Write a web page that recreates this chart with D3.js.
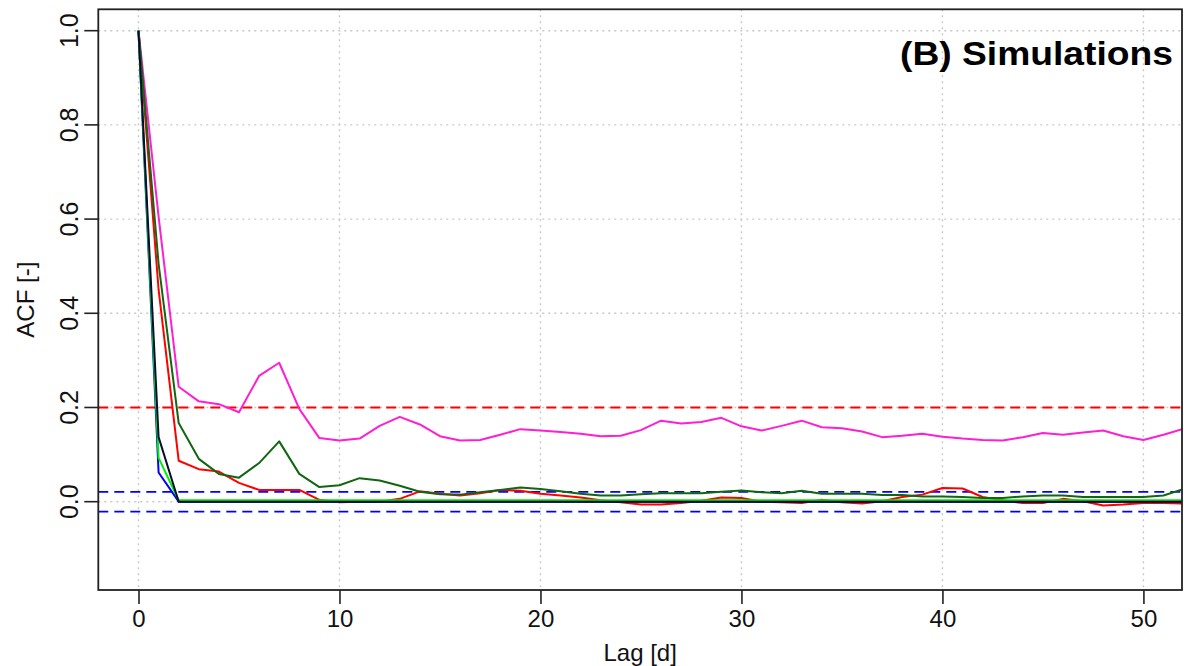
<!DOCTYPE html>
<html>
<head>
<meta charset="utf-8">
<script src="https://cdn.jsdelivr.net/npm/d3@7"></script>
<style>
  html, body { margin: 0; padding: 0; background: #fff; }
  svg text { font-family: "Liberation Sans", Arial, sans-serif; }
</style>
</head>
<body>
<svg id="chart" width="1184" height="666"></svg>
<script>
// ---- data (ACF by lag, lags 0..52) ----
const lags = d3.range(0, 53);
const magentaACF = [1.0, 0.605, 0.244, 0.213, 0.207, 0.190, 0.267, 0.295, 0.197, 0.135,
  0.130, 0.134, 0.161, 0.180, 0.164, 0.139, 0.130, 0.131, 0.142, 0.154,
  0.151, 0.148, 0.144, 0.139, 0.140, 0.152, 0.172, 0.166, 0.169, 0.178,
  0.160, 0.151, 0.161, 0.172, 0.158, 0.156, 0.149, 0.137, 0.140, 0.144,
  0.138, 0.134, 0.131, 0.130, 0.137, 0.146, 0.142, 0.147, 0.151, 0.139,
  0.131, 0.142, 0.155];
const darkgreenACF = [1.0, 0.505, 0.167, 0.091, 0.059, 0.051, 0.082, 0.128, 0.059, 0.031,
  0.035, 0.050, 0.045, 0.034, 0.021, 0.016, 0.015, 0.020, 0.025, 0.030,
  0.027, 0.022, 0.017, 0.013, 0.013, 0.016, 0.018, 0.018, 0.018, 0.021,
  0.024, 0.020, 0.018, 0.023, 0.017, 0.017, 0.017, 0.014, 0.014, 0.011,
  0.011, 0.010, 0.008, 0.008, 0.011, 0.013, 0.013, 0.010, 0.010, 0.010,
  0.010, 0.013, 0.027];
const redACF = [1.0, 0.450, 0.087, 0.069, 0.064, 0.040, 0.025, 0.025, 0.025, 0.004,
  -0.001, 0.000, 0.000, 0.006, 0.022, 0.017, 0.013, 0.018, 0.025, 0.023,
  0.017, 0.013, 0.009, 0.003, -0.001, -0.006, -0.006, -0.003, 0.002, 0.009,
  0.008, 0.000, -0.001, -0.003, 0.004, -0.001, -0.004, 0.001, 0.010, 0.015,
  0.029, 0.028, 0.010, 0.003, -0.003, -0.003, 0.006, 0.001, -0.008, -0.006,
  -0.003, -0.003, -0.004];
const blueACF = [1.0, 0.062].concat(Array(51).fill(0.0));
const limeACF = [1.0, 0.093].concat(Array(51).fill(0.003));
const blackACF = [1.0, 0.137].concat(Array(51).fill(0.0));

const seriesNames = ["magenta", "red", "darkgreen", "blue", "lime", "black"];
const seriesValues = [magentaACF, redACF, darkgreenACF, blueACF, limeACF, blackACF];
const seriesColors = ["#ff1fd2", "#ff0000", "#116611", "#0000ff", "#00ee00", "#0b0b2e"];

const refLines = [0.2, 0.021, -0.021];
const refColors = ["#ff0000", "#0000ff", "#0000ff"];

const xTicks = [0, 10, 20, 30, 40, 50];
const yTicks = [0.0, 0.2, 0.4, 0.6, 0.8, 1.0];
const yTickLabels = ["0.0", "0.2", "0.4", "0.6", "0.8", "1.0"];

const titleText = "(B) Simulations";
const xTitle = "Lag [d]";
const yTitle = "ACF [-]";

// ---- layout ----
const L = 98.3, R = 1182, T = 9.3, B = 590;
const svg = d3.select("#chart");

const x = d3.scaleLinear().domain([-2.0, 51.92]).range([L, R]);
const y = d3.scaleLinear().domain([-0.1875, 1.0454]).range([B, T]);

svg.append("defs").append("clipPath").attr("id", "clip")
  .append("rect").attr("x", L).attr("y", T).attr("width", R - L).attr("height", B - T);

// grid
const grid = svg.append("g");
grid.selectAll("line.gx").data(xTicks).join("line")
  .attr("x1", d => x(d)).attr("x2", d => x(d)).attr("y1", T).attr("y2", B)
  .attr("stroke", "#c8c8c8").attr("stroke-width", 1.4).attr("stroke-dasharray", "2,4");
grid.selectAll("line.gy").data(yTicks).join("line")
  .attr("y1", d => y(d)).attr("y2", d => y(d)).attr("x1", L).attr("x2", R)
  .attr("stroke", "#c8c8c8").attr("stroke-width", 1.4).attr("stroke-dasharray", "2,4");

const plot = svg.append("g").attr("clip-path", "url(#clip)");

// reference dashed lines
plot.selectAll("line.ref").data(refLines).join("line")
  .attr("x1", L).attr("x2", R)
  .attr("y1", d => y(d)).attr("y2", d => y(d))
  .attr("stroke", (d, i) => refColors[i]).attr("stroke-width", 1.8)
  .attr("stroke-dasharray", "10,6");

// series
const line = d3.line().x((d, i) => x(lags[i])).y(d => y(d));
plot.selectAll("path.s").data(seriesValues).join("path")
  .attr("d", d => line(d))
  .attr("fill", "none")
  .attr("stroke", (d, i) => seriesColors[i])
  .attr("stroke-width", 2)
  .attr("stroke-linejoin", "round");

// axes (R style)
const xAxis = d3.axisBottom(x).tickValues(xTicks).tickSize(14).tickPadding(6).tickFormat(d3.format("d"));
const gx = svg.append("g").attr("transform", `translate(0,${B})`).call(xAxis);
gx.select(".domain").remove();
gx.selectAll(".tick line").attr("stroke", "#222").attr("stroke-width", 1.6);
gx.selectAll(".tick text").attr("font-size", 24).attr("fill", "#111")
  .attr("font-family", "Liberation Sans, Arial, sans-serif");

const gy = svg.append("g");
gy.selectAll("line").data(yTicks).join("line")
  .attr("x1", L - 14).attr("x2", L).attr("y1", d => y(d)).attr("y2", d => y(d))
  .attr("stroke", "#222").attr("stroke-width", 1.6);
gy.selectAll("text").data(yTicks).join("text")
  .attr("transform", d => `translate(78,${y(d)}) rotate(-90)`)
  .attr("text-anchor", "middle")
  .attr("font-size", 25).attr("fill", "#111")
  .text((d, i) => yTickLabels[i]);

// box
svg.append("rect").attr("x", L).attr("y", T).attr("width", R - L).attr("height", B - T)
  .attr("fill", "none").attr("stroke", "#222").attr("stroke-width", 1.8);

// titles
svg.append("text").attr("x", (L + R) / 2).attr("y", 661).attr("text-anchor", "middle")
  .attr("font-size", 24).attr("fill", "#111").text(xTitle);
svg.append("text").attr("transform", `translate(34,${(T + B) / 2}) rotate(-90)`)
  .attr("text-anchor", "middle").attr("font-size", 24).attr("fill", "#111").text(yTitle);

svg.append("text").attr("x", 1173).attr("y", 65).attr("text-anchor", "end")
  .attr("font-size", 34).attr("font-weight", "bold").attr("fill", "#000")
  .attr("textLength", 273).attr("lengthAdjust", "spacingAndGlyphs")
  .text(titleText);
</script>
</body>
</html>
